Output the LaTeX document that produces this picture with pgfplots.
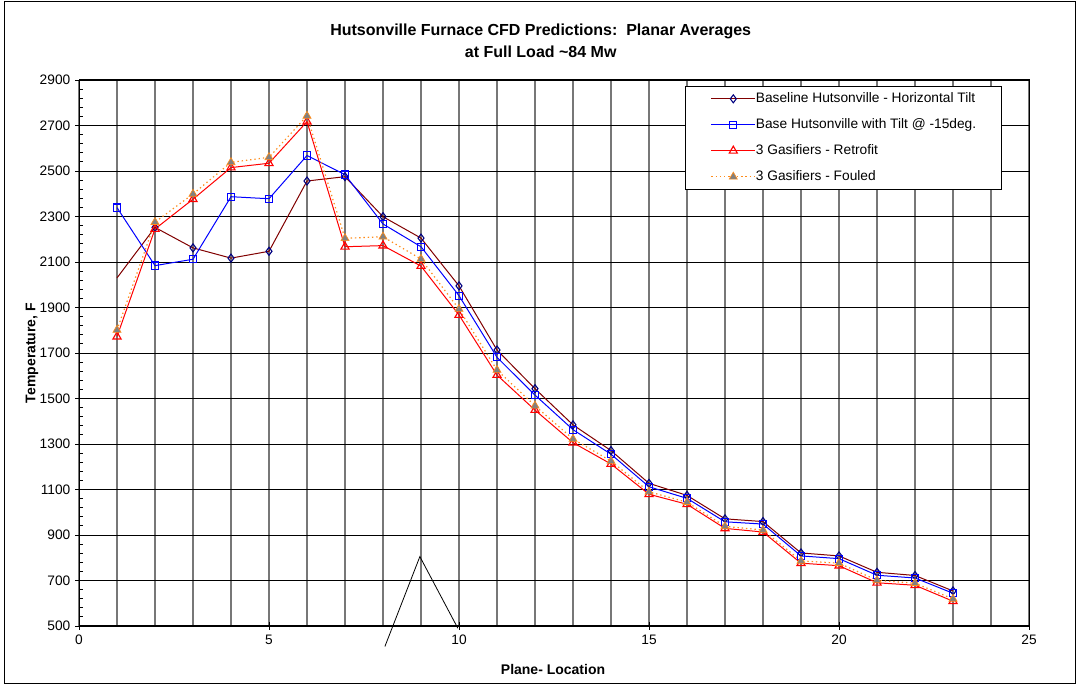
\documentclass[border=0pt]{standalone}
\usepackage{fontspec}
\setmainfont{Liberation Sans}
\usepackage{pgfplots}
\pgfplotsset{compat=1.18}

\definecolor{basered}{HTML}{800000}
\definecolor{basenavy}{HTML}{000080}
\definecolor{tiltblue}{HTML}{0000FF}
\definecolor{retrored}{HTML}{FF0000}
\definecolor{foulorange}{HTML}{FF8C1A}
\definecolor{foulgray}{HTML}{808080}
\definecolor{vgrid}{HTML}{777777}

\begin{document}
\begin{tikzpicture}
\begin{axis}[
  name=ax,
  scale only axis, width=712.5pt, height=409.5pt,
  xmin=0, xmax=25, ymin=500, ymax=2900,
  xtick={0,5,...,25}, minor x tick num=4,
  ytick={500,700,...,2900}, minor y tick num=4,
  tick pos=left, tick align=center,
  major tick length=6pt, minor tick length=3pt,
  minor x tick style={draw=none},
  minor y tick style={xshift=1.5pt},
  xmajorgrids, xminorgrids, ymajorgrids,
  major x grid style={vgrid, line width=1pt},
  minor x grid style={vgrid, line width=1pt},
  major y grid style={black, line width=0.6pt},
  axis line style={black, line width=0.75pt},
  tick style={black, line width=0.6pt},
  ticklabel style={font=\fontsize{10.3}{12}\selectfont},
  /pgf/number format/.cd, 1000 sep={}, assume math mode=true, /pgfplots/.cd,
  scaled ticks=false,
  xlabel={Plane- Location}, ylabel={Temperature, F},
  label style={font=\bfseries\fontsize{10.5}{12}\selectfont},
  xlabel style={at={(axis description cs:0.499,-0.0806)}, anchor=center},
  ylabel style={at={(axis description cs:-0.0495,0.5)}, anchor=center},
  clip=false,
  legend style={at={(0.9716,0.989)}, anchor=north east, draw=black,
    line width=0.75pt, inner xsep=19pt, inner ysep=4.5pt, row sep=10pt,
    font=\fontsize{10.3}{12}\selectfont,
    nodes={inner sep=0pt, text height=7.5pt, text depth=2pt, anchor=west},
    /tikz/every even column/.append style={column sep=1.5pt}},
  legend cell align=left,
  legend image code/.code={\draw[#1, mark indices={2}] plot coordinates {(0pt,0pt) (16.5pt,0pt) (33pt,0pt)};},
]
% Baseline Hutsonville - Horizontal Tilt
\addplot[basered, line width=0.75pt, mark=diamond, mark size=3pt,
  mark indices={2,...,23},
  mark options={solid, draw=basenavy, fill=white, line width=0.8pt}]
  coordinates {
  (1,2030) (2,2252) (3,2162) (4,2117) (5,2147) (6,2456) (7,2475) (8,2299)
  (9,2205) (10,1995) (11,1713) (12,1543) (13,1384) (14,1271) (15,1127)
  (16,1074) (17,971) (18,959) (19,821) (20,808) (21,736) (22,722) (23,654)
};
\addlegendentry{Baseline Hutsonville - Horizontal Tilt}
% Base Hutsonville with Tilt @ -15deg.
\addplot[tiltblue, line width=0.75pt, mark=square, mark size=2.7pt,
  mark options={solid, line width=0.8pt}]
  coordinates {
  (1,2339) (2,2084) (3,2112) (4,2387) (5,2378) (6,2568) (7,2484) (8,2267)
  (9,2167) (10,1952) (11,1681) (12,1515) (13,1363) (14,1255) (15,1112)
  (16,1061) (17,958) (18,948) (19,808) (20,796) (21,723) (22,711) (23,644)
};
\addlegendentry{Base Hutsonville with Tilt @ -15deg.}
% 3 Gasifiers - Retrofit
\addplot[retrored, line width=0.75pt, mark=triangle, mark size=3.5pt,
  mark options={solid, line width=0.85pt}]
  coordinates {
  (1,1772) (2,2245) (3,2376) (4,2515) (5,2534) (6,2717) (7,2167) (8,2172)
  (9,2082) (10,1867) (11,1603) (12,1449) (13,1306) (14,1212) (15,1079)
  (16,1035) (17,929) (18,913) (19,776) (20,765) (21,690) (22,679) (23,609)
};
\addlegendentry{3 Gasifiers - Retrofit}
% 3 Gasifiers - Fouled
\addplot[foulorange, line width=0.9pt, dash pattern=on 1pt off 2.2pt,
  mark=triangle*, mark size=3.5pt,
  mark options={solid, fill=foulgray, draw=foulorange, line width=0.5pt}]
  coordinates {
  (1,1801) (2,2275) (3,2399) (4,2538) (5,2560) (6,2742) (7,2204) (8,2211)
  (9,2113) (10,1893) (11,1625) (12,1468) (13,1322) (14,1225) (15,1090)
  (16,1044) (17,938) (18,922) (19,786) (20,776) (21,701) (22,688) (23,619)
};
\addlegendentry{3 Gasifiers - Fouled}
% stray line drawn on the original sheet
\addplot[black, line width=0.6pt, mark=none, forget plot]
  coordinates {(8.05,410) (8.97,805) (9.97,490)};
\node[font=\bfseries\fontsize{12}{14}\selectfont, anchor=base]
  at (axis description cs:0.486,1.0811)
  {Hutsonville Furnace CFD Predictions:\ \ Planar Averages};
\node[font=\bfseries\fontsize{12}{14}\selectfont, anchor=base]
  at (axis description cs:0.486,1.0413) {at Full Load \textasciitilde84 Mw};
\end{axis}
\path ([shift={(-59.25pt,-45pt)}]ax.south west) rectangle ([shift={(36.75pt,60pt)}]ax.north east);
\draw[line width=0.75pt] ([shift={(-55.5pt,-43.5pt)}]ax.south west) rectangle ([shift={(34.5pt,58.5pt)}]ax.north east);
\end{tikzpicture}
\end{document}
